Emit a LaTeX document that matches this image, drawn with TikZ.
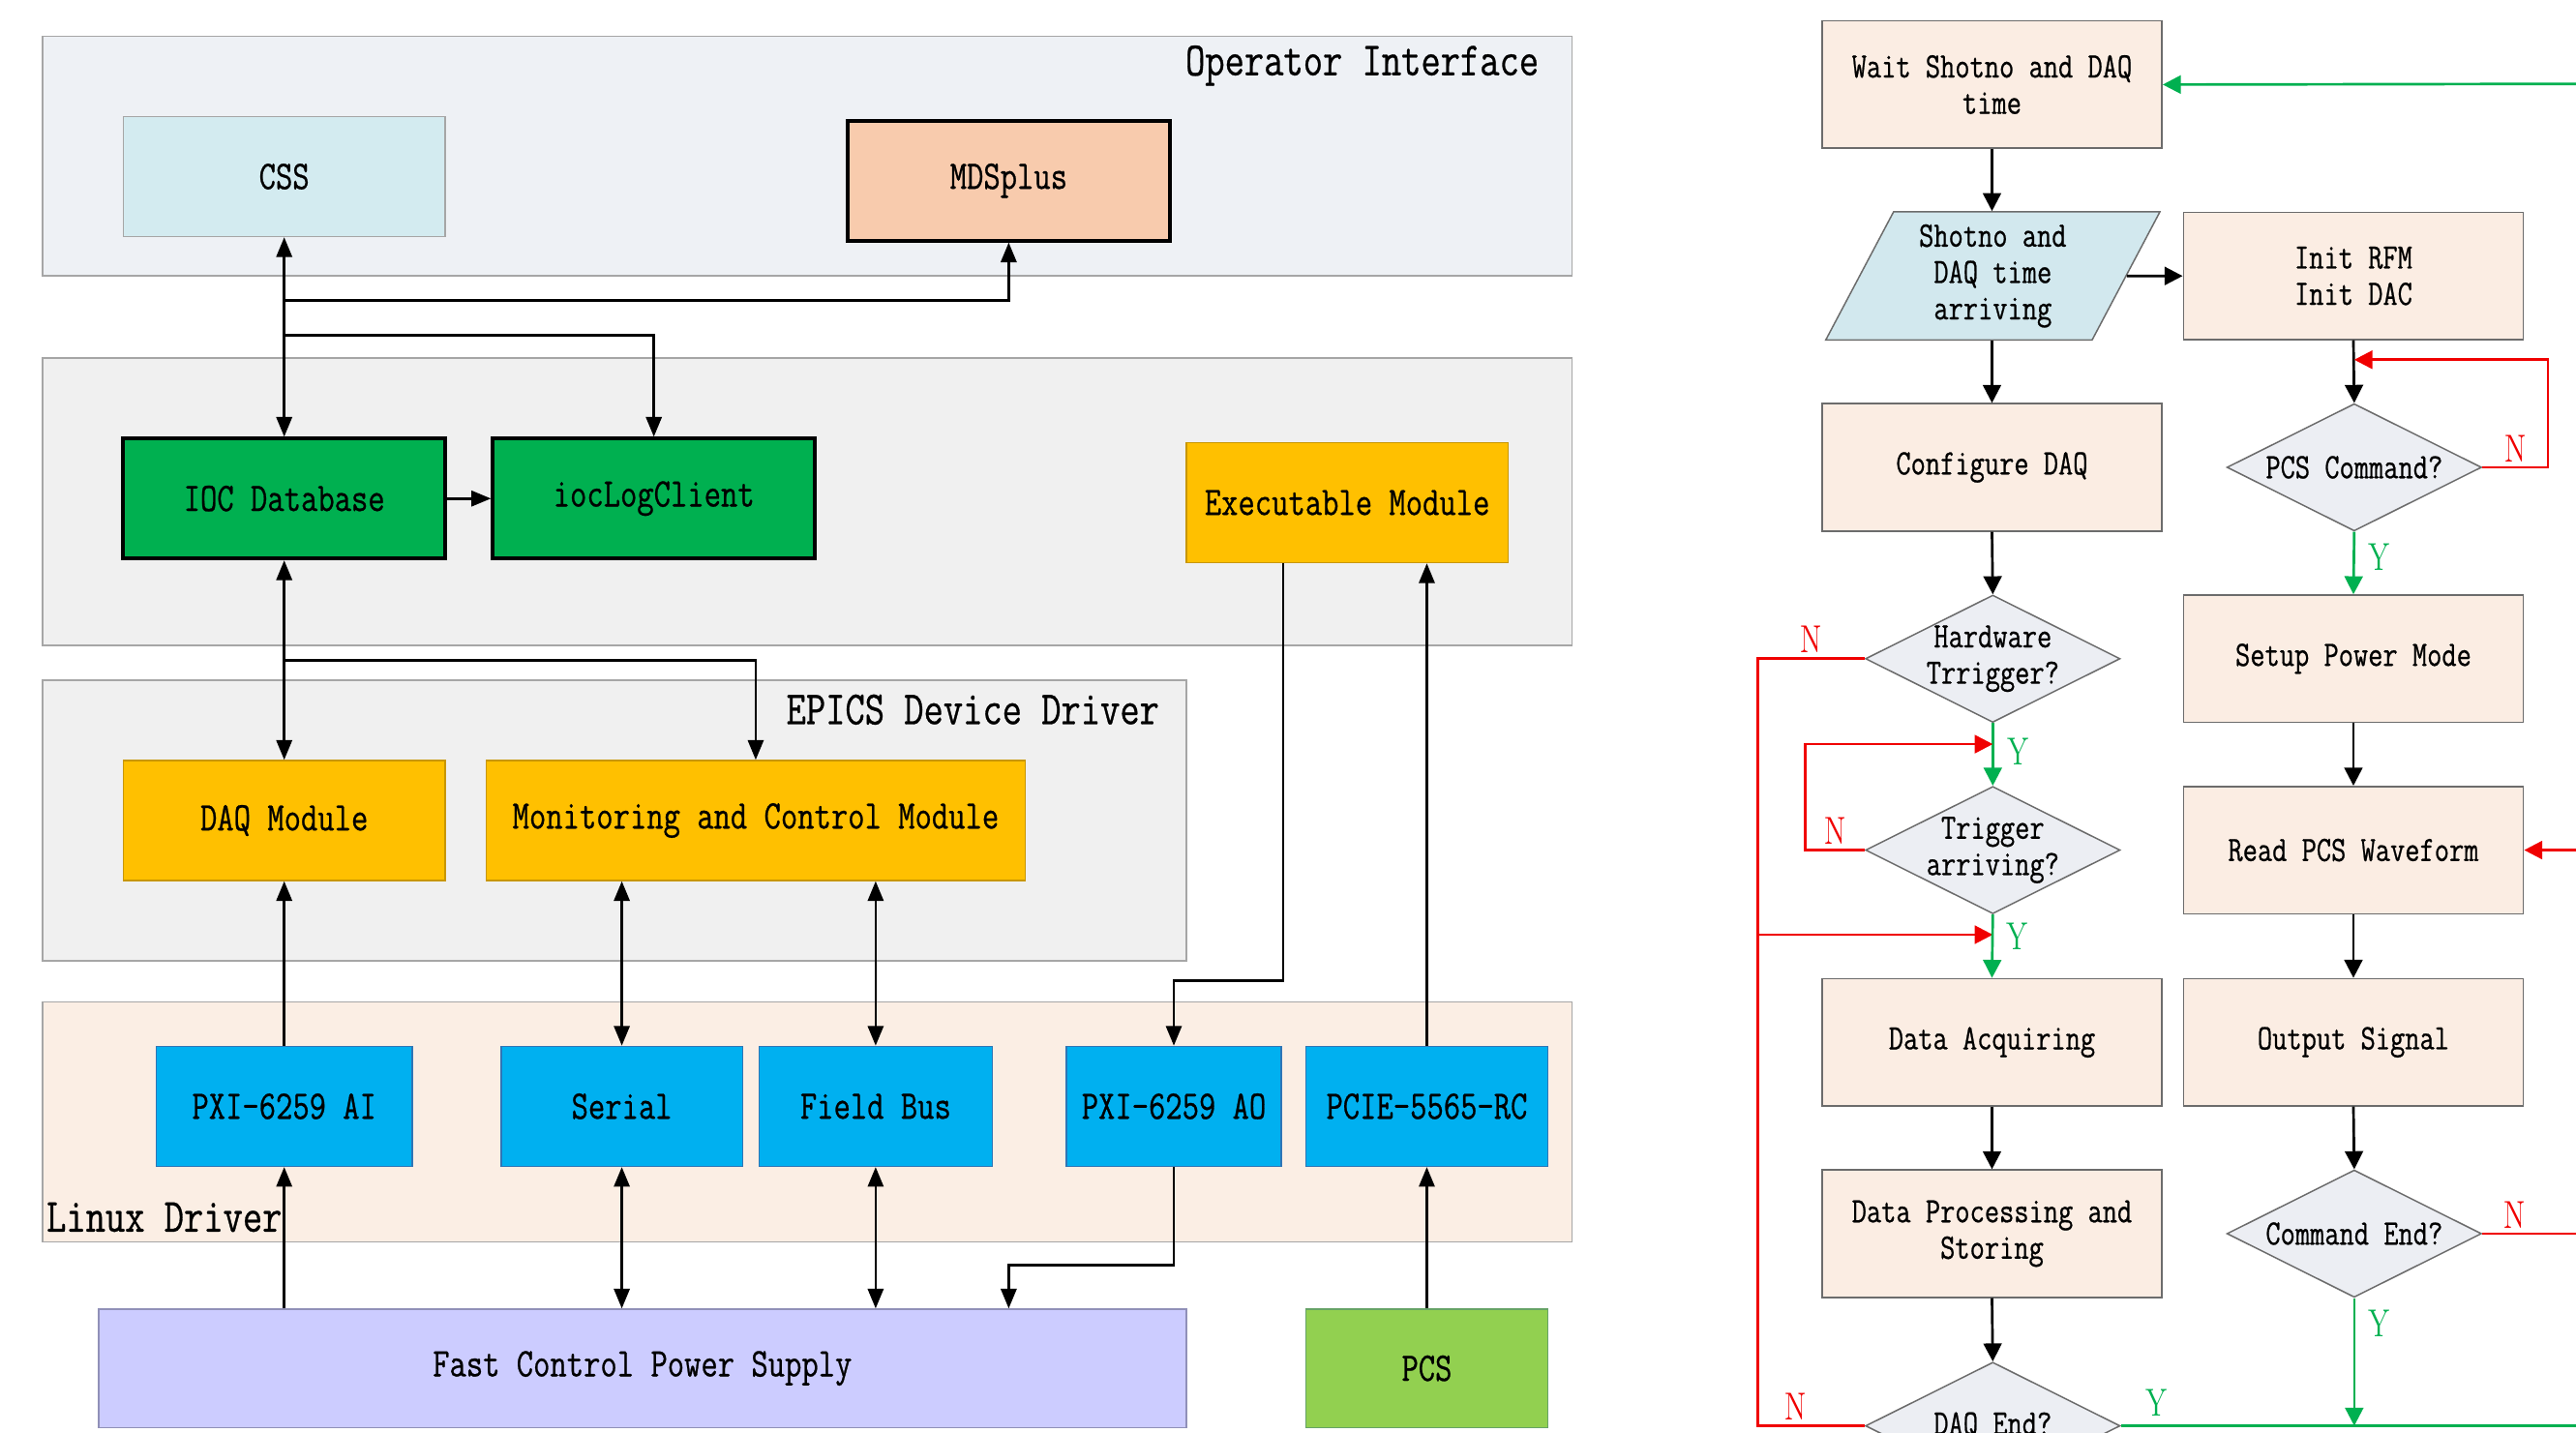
\documentclass[tikz,border=0pt]{standalone}
\usepackage{fontspec}
\usepackage{tikz}
\usetikzlibrary{positioning}
\usetikzlibrary{shapes.geometric,arrows.meta}

\newfontfamily\condtt{Latin Modern Mono}[FakeStretch=0.8,FakeBold=0.6]
\newfontfamily\condrm{Latin Modern Roman}[FakeStretch=0.75]

\definecolor{layerblue}{HTML}{EEF1F5}
\definecolor{layergray}{HTML}{F0F0F0}
\definecolor{layerpeach}{HTML}{FBEEE4}
\definecolor{layeredge}{HTML}{A6A6A6}
\definecolor{cssblue}{HTML}{D3EBF0}
\definecolor{mdsorange}{HTML}{F8CBAD}
\definecolor{iocgreen}{HTML}{00B050}
\definecolor{modyellow}{HTML}{FFC000}
\definecolor{modedge}{HTML}{C89600}
\definecolor{drvblue}{HTML}{00B0F0}
\definecolor{drvedge}{HTML}{2E75B6}
\definecolor{fcpsblue}{HTML}{CCCCFF}
\definecolor{fcpsedge}{HTML}{9090B8}
\definecolor{pcsgreen}{HTML}{92D050}
\definecolor{stepfill}{HTML}{FBEDE3}
\definecolor{askfill}{HTML}{ECEEF3}
\definecolor{iofill}{HTML}{D2E8EE}
\definecolor{yesgreen}{HTML}{00B050}
\definecolor{nored}{HTML}{F00000}

\newcommand{\blkfont}{\fontsize{14.1}{16}\selectfont\condtt}
\newcommand{\layerfont}{\fontsize{16.5}{18}\selectfont\condtt}
\newcommand{\flowfont}{\fontsize{12.4}{12.6}\selectfont\condtt}
\newcommand{\ynfont}{\fontsize{13.5}{15}\selectfont\condrm}

\begin{document}
\begin{tikzpicture}[x=0.2mm,y=-0.2mm,
  layer/.style={draw=layeredge,line width=0.5pt},
  layertxt/.style={font=\layerfont,inner sep=0pt},
  blk/.style={rectangle,inner sep=0pt,minimum width=39.2mm,minimum height=14.6mm,font=\blkfont,line width=0.5pt},
  bold/.style={blk,draw=black,line width=1.3pt},
  drv/.style={blk,fill=drvblue,draw=drvedge},
  flow/.style={rectangle,draw=gray!85!black,fill=stepfill,line width=0.5pt,minimum width=41.4mm,minimum height=15.5mm,align=center,font=\flowfont},
  ask/.style={diamond,draw=gray!85!black,fill=askfill,line width=0.5pt,inner sep=0pt,minimum width=31mm,minimum height=15.5mm},
  link/.style={line width=0.9pt,-{Triangle[length=2.4mm,width=1.9mm]}},
  dlink/.style={line width=0.9pt,{Triangle[length=2.4mm,width=1.9mm]}-{Triangle[length=2.4mm,width=1.9mm]}},
  go/.style={line width=0.9pt,-{Triangle[length=2.2mm,width=2.2mm]}},
  yes/.style={go,draw=yesgreen},
  no/.style={go,draw=nored},
  nlab/.style={text=nored,font=\ynfont,inner sep=1.5pt},
  ylab/.style={text=yesgreen,font=\ynfont,inner ysep=3pt,inner xsep=4.5pt}]

\useasboundingbox (0,0) rectangle (1568,872);
\clip (0,0) rectangle (1568,872);

\coordinate (mdsbr) at (173,183);
\coordinate (logbr) at (173,204);
\coordinate (mcmbr) at (173,402);
\coordinate (aobr) at (781,597);
\coordinate (fcpsbr) at (614,770);
\coordinate (lftup) at (1070,401);
\coordinate (lftdown) at (1070,868);
\coordinate (lftacq) at (1070,569);
\coordinate (trigup) at (1099,453);
\coordinate (pcsloop) at (1433,219);
\coordinate (waitin) at (1600,51);
\coordinate (readin) at (1600,517.5);
\coordinate (cmdout) at (1600,751);
\coordinate (daqout) at (1600,868);

\filldraw[layer,fill=layerblue] (26,22) rectangle (957,168);
\filldraw[layer,fill=layergray] (26,218) rectangle (957,393);
\filldraw[layer,fill=layergray] (26,414) rectangle (722,585);
\filldraw[layer,fill=layerpeach] (26,610) rectangle (957,756);
\node[layertxt,anchor=east] (opi) at (937,40) {Operator Interface};
\node[layertxt,anchor=east] (epics) at (706,432) {EPICS Device Driver};
\node[layertxt,anchor=west] (linux) at (28,741) {Linux Driver};

\node[blk,fill=cssblue,draw=gray!70] (css) at (173,107.5) {CSS};
\node[bold,fill=mdsorange] (mds) at (614,110) {MDSplus};
\node[bold,fill=iocgreen] (ioc) at (173,303.5) {IOC Database};
\node[bold,fill=iocgreen] (logc) at (398,303.5) {iocLogClient};
\node[blk,fill=modyellow,draw=modedge] (exe) at (820,306) {Executable Module};
\node[blk,fill=modyellow,draw=modedge] (daq) at (173,499.5) {DAQ Module};
\node[blk,fill=modyellow,draw=modedge,minimum width=65.6mm] (mcm) at (460,499.5) {Monitoring and Control Module};
\node[drv,minimum width=31.2mm] (ai) at (173,673.5) {PXI-6259 AI};
\node[drv,minimum width=29.4mm] (serial) at (378.5,673.5) {Serial};
\node[drv,minimum width=28.4mm] (fbus) at (533,673.5) {Field Bus};
\node[drv,minimum width=26.2mm] (ao) at (714.5,673.5) {PXI-6259 AO};
\node[drv,minimum width=29.4mm] (pcie) at (868.5,673.5) {PCIE-5565-RC};
\node[blk,fill=fcpsblue,draw=fcpsedge,minimum width=132.4mm,minimum height=14.4mm] (fcps) at (391,833) {Fast Control Power Supply};
\node[blk,fill=pcsgreen,draw=green!40!black!60,minimum width=29.4mm,minimum height=14.4mm] (pcs) at (868.5,833) {PCS};

\draw[dlink] (css.south) -- (ioc.north);
\draw[link] (mdsbr) -| (mds.south);
\draw[link] (logbr) -| (logc.north);
\draw[link] (ioc) -- (logc);
\draw[dlink] (ioc.south) -- (daq.north);
\draw[link] (mcmbr) -| (mcm.north);
\draw[link] (aobr |- exe.south) -- (aobr) -| (ao.north);
\draw[link] (pcie.north) -- (pcie.north |- exe.south);
\draw[link] (ai.north) -- (daq.south);
\draw[dlink] (serial.north) -- (serial.north |- mcm.south);
\draw[dlink] (fbus.north) -- (fbus.north |- mcm.south);
\draw[link] (ai.south |- fcps.north) -- (ai.south);
\draw[dlink] (serial.south) -- (serial.south |- fcps.north);
\draw[dlink] (fbus.south) -- (fbus.south |- fcps.north);
\draw[link] (ao.south) |- (fcpsbr) -- (fcpsbr |- fcps.north);
\draw[link] (pcs.north) -- (pcie.south);

\node[flow] (wait) at (1212.5,51.5) {Wait Shotno and DAQ\\time};
\node[trapezium,trapezium left angle=64,trapezium right angle=116,trapezium stretches=true,draw=gray!85!black,fill=iofill,line width=0.5pt,inner sep=0pt,minimum width=40.8mm,minimum height=15.6mm,align=center,font=\flowfont] (arr) at (1213,168) {Shotno and\\DAQ time\\arriving};
\node[flow] (init) at (1432.5,168) {Init RFM\\Init DAC};
\node[flow] (cfg) at (1212.5,284.5) {Configure DAQ};
\node[ask,label={[font=\flowfont]center:PCS Command?}] (pcscmd) at (1433,284.5) {};
\node[ask,label={[font=\flowfont,align=center]center:Hardware\\Trrigger?}] (hwtrig) at (1213,401) {};
\node[flow] (setup) at (1432.5,401) {Setup Power Mode};
\node[ask,label={[font=\flowfont,align=center]center:Trigger\\arriving?}] (trig) at (1213,517.5) {};
\node[flow] (readpcs) at (1432.5,517.5) {Read PCS Waveform};
\node[flow] (acq) at (1212.5,634.5) {Data Acquiring};
\node[flow] (outsig) at (1432.5,634.5) {Output Signal};
\node[flow] (proc) at (1212.5,751) {Data Processing and\\Storing};
\node[ask,label={[font=\flowfont]center:Command End?}] (cmdend) at (1433,751) {};
\node[ask,label={[font=\flowfont]center:DAQ End?}] (daqend) at (1213,868) {};

\draw[yes] (waitin) -- (wait.east);
\draw[go] (wait.south) -- (wait.south |- arr.north);
\draw[go] (arr.east) -- (init.west);
\draw[go] (cfg.north |- arr.south) -- (cfg.north);
\draw[go] (init.south) -- (pcscmd.north);
\draw[no] (pcscmd.east) -- node[nlab,above]{N} ++(8mm,0) |- (pcsloop);
\draw[yes] (pcscmd.south) -- node[ylab,pos=0.4,right]{Y} (setup.north);
\draw[go] (setup.south) -- (readpcs.north);
\draw[no] (readin) -- (readpcs.east);
\draw[go] (readpcs.south) -- (outsig.north);
\draw[go] (outsig.south) -- (cmdend.north);
\draw[nored,line width=0.9pt] (cmdend.east) -- node[nlab,pos=0.22,above]{N} (cmdout);
\draw[yes] (cmdend.south) -- node[ylab,pos=0.2,right]{Y} (cmdend.south |- daqout);
\draw[go] (cfg.south) -- (hwtrig.north);
\draw[nored,line width=0.9pt] (hwtrig.west) -- node[nlab,above]{N} (lftup) -- (lftdown) -- node[nlab,pos=0.35,above]{N} (daqend.west);
\draw[no] (lftacq) -- (lftacq -| trig.south);
\draw[yes] (hwtrig.south) -- node[ylab,pos=0.45,right]{Y} (trig.north);
\draw[no] (trig.west) -- node[nlab,above]{N} (trigup |- trig.west) -- (trigup) -- (trigup -| trig.north);
\draw[yes] (trig.south) -- node[ylab,pos=0.35,right]{Y} (acq.north);
\draw[go] (acq.south) -- (proc.north);
\draw[go] (proc.south) -- (daqend.north);
\draw[yesgreen,line width=0.9pt] (daqend.east) -- node[ylab,pos=0.07,above]{Y} (daqout);
\end{tikzpicture}
\end{document}
